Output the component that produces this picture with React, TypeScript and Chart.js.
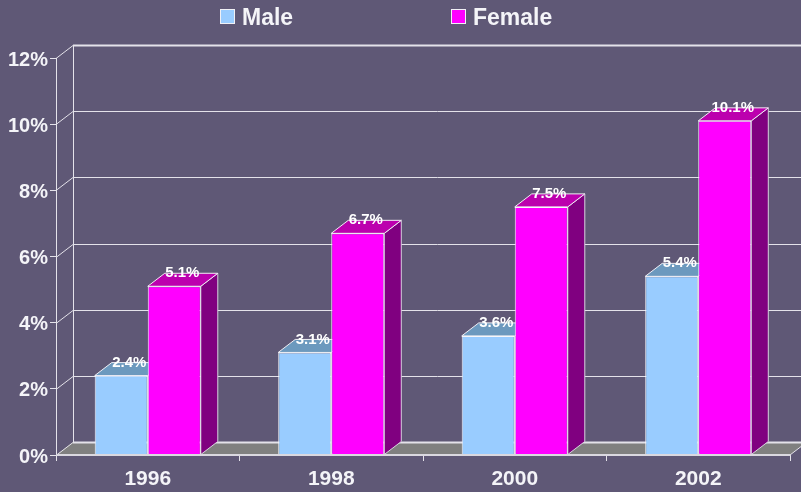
import React, { useEffect, useRef } from "react";
import { Chart, registerables } from "chart.js";

Chart.register(...registerables);

const categories = ["1996", "1998", "2000", "2002"];
const maleValues = [2.4, 3.1, 3.6, 5.4];
const femaleValues = [5.1, 6.7, 7.5, 10.1];
const seriesNames = ["Male", "Female"];
const FONT = "'Liberation Sans', Arial, sans-serif";
const BG = "#5F5876";
const LINE = "#E4E2EA";
const DX = 17;
const DY = 13;

const shades = [
  { top: "#6C99BE", side: "#4C6C87" },
  { top: "#BC00AE", side: "#800080" },
];
const legendBoxX = [220, 451];

const poly = (ctx: CanvasRenderingContext2D, pts: number[][], fill: string, stroke?: string) => {
  ctx.beginPath();
  pts.forEach(([x, y], i) => (i ? ctx.lineTo(x, y) : ctx.moveTo(x, y)));
  ctx.closePath();
  ctx.fillStyle = fill;
  ctx.fill();
  if (stroke) {
    ctx.strokeStyle = stroke;
    ctx.lineWidth = 1;
    ctx.stroke();
  }
};

const nudgeLabels = (s: any) => {
  if (s.__nudged) return;
  s.__nudged = true;
  const draw = s.drawLabels;
  s.drawLabels = (area: any) => {
    s.ctx.save();
    s.ctx.translate(0, 2);
    draw.call(s, area);
    s.ctx.restore();
  };
};

const box3d = {
  id: "box3d",
  beforeDatasetsDraw(chart: any) {
    const { ctx, chartArea: a, scales } = chart;
    const W = chart.width + 20;
    ctx.save();
    // floor
    poly(ctx, [[a.left, a.bottom], [a.left + DX, a.bottom - DY], [a.right + DX, a.bottom - DY], [a.right, a.bottom]], "#808080");
    // wall grid
    ctx.strokeStyle = LINE;
    ctx.lineWidth = 1;
    scales.y.ticks.forEach((t: any, i: number) => {
      const y = Math.round(scales.y.getPixelForTick(i)) + 0.5;
      ctx.lineWidth = 1;
      ctx.beginPath();
      ctx.moveTo(a.left, y);
      ctx.lineTo(a.left + DX, y - DY);
      ctx.stroke();
      ctx.lineWidth = i === 0 || i === scales.y.ticks.length - 1 ? 2 : 1;
      ctx.beginPath();
      ctx.moveTo(a.left + DX, y - DY);
      ctx.lineTo(W, y - DY);
      ctx.stroke();
    });
    ctx.lineWidth = 1;
    ctx.beginPath();
    ctx.moveTo(a.left + DX + 0.5, a.top - DY);
    ctx.lineTo(a.left + DX + 0.5, a.bottom - DY);
    ctx.stroke();
    // right edge of the floor
    ctx.beginPath();
    ctx.moveTo(a.right, a.bottom);
    ctx.lineTo(a.right + DX, a.bottom - DY);
    ctx.stroke();
    // bar depth faces
    chart.data.datasets.forEach((_: any, di: number) => {
      chart.getDatasetMeta(di).data.forEach((b: any) => {
        const l = b.x - b.width / 2;
        const r = b.x + b.width / 2;
        const t = b.y;
        const bot = b.base;
        poly(ctx, [[r, t], [r + DX, t - DY], [r + DX, bot - DY], [r, bot]], shades[di].side, "#D6D2DE");
        poly(ctx, [[l, t], [l + DX, t - DY], [r + DX, t - DY], [r, t]], shades[di].top, "#F0EEF4");
      });
    });
    ctx.restore();
  },
  afterDatasetsDraw(chart: any) {
    const { ctx, chartArea: a } = chart;
    ctx.save();
    ctx.strokeStyle = "#DAD8E0";
    ctx.lineWidth = 2;
    ctx.beginPath();
    ctx.moveTo(a.left, a.bottom);
    ctx.lineTo(a.right, a.bottom);
    ctx.stroke();
    ctx.fillStyle = "#FFFFFF";
    ctx.font = `bold 15px ${FONT}`;
    ctx.textAlign = "center";
    ctx.textBaseline = "middle";
    chart.data.datasets.forEach((ds: any, di: number) => {
      chart.getDatasetMeta(di).data.forEach((b: any, i: number) => {
        ctx.fillText(`${ds.data[i].toFixed(1)}%`, b.x + 8, b.y - DY);
      });
    });
    // legend
    ctx.textAlign = "left";
    ctx.font = `bold 23px ${FONT}`;
    chart.data.datasets.forEach((ds: any, di: number) => {
      const x = legendBoxX[di];
      ctx.fillStyle = ds.backgroundColor;
      ctx.fillRect(x, 9, 15, 15);
      ctx.strokeStyle = "#F0F0F5";
      ctx.lineWidth = 1;
      ctx.strokeRect(x + 0.5, 9.5, 14, 14);
      ctx.fillStyle = "#F4F4F8";
      ctx.fillText(ds.label, x + 22, 19);
    });
    ctx.restore();
  },
};

export default function App() {
  const ref = useRef<HTMLCanvasElement>(null);
  useEffect(() => {
    document.body.style.margin = "0";
    document.body.style.background = BG;
    const chart = new Chart(ref.current!, {
      type: "bar",
      data: {
        labels: categories,
        datasets: [
          { label: seriesNames[0], data: maleValues, backgroundColor: "#99CCFF", borderColor: "#F6F6FA", borderWidth: 1 },
          { label: seriesNames[1], data: femaleValues, backgroundColor: "#FF00FF", borderColor: "#F6F6FA", borderWidth: 1 },
        ],
      },
      options: {
        animation: false,
        responsive: false,
        layout: { padding: { top: 58, right: 11, left: 0, bottom: 0 } },
        datasets: { bar: { categoryPercentage: 0.578, barPercentage: 1 } },
        scales: {
          x: {
            afterFit: (s: any) => { s.height = 37; },
            grid: { drawOnChartArea: false, color: LINE, tickLength: 6, offset: true },
            border: { color: "#DAD8E0", width: 1 },
            ticks: { color: "#F4F4F8", font: { family: FONT, size: 21, weight: "bold" }, padding: 6, maxRotation: 0 },
          },
          y: {
            min: 0,
            max: 12,
            afterFit: (s: any) => { s.width = 56; nudgeLabels(s); },
            grid: { drawOnChartArea: false, color: LINE, tickLength: 6 },
            border: { color: LINE, width: 1 },
            ticks: { stepSize: 2, color: "#F4F4F8", font: { family: FONT, size: 20, weight: "bold" }, padding: 2, callback: (v: any) => `${v}%` },
          },
        },
        plugins: {
          tooltip: { enabled: false },
          title: { display: false },
          legend: { display: false },
        },
      },
      plugins: [
        box3d,
        {
          id: "bgfill",
          beforeDraw(c: any) {
            c.ctx.save();
            c.ctx.fillStyle = BG;
            c.ctx.fillRect(0, 0, c.width, c.height);
            c.ctx.restore();
          },
        },
      ],
    } as any);
    return () => chart.destroy();
  }, []);
  return <canvas ref={ref} width={801} height={492} style={{ display: "block" }} />;
}
